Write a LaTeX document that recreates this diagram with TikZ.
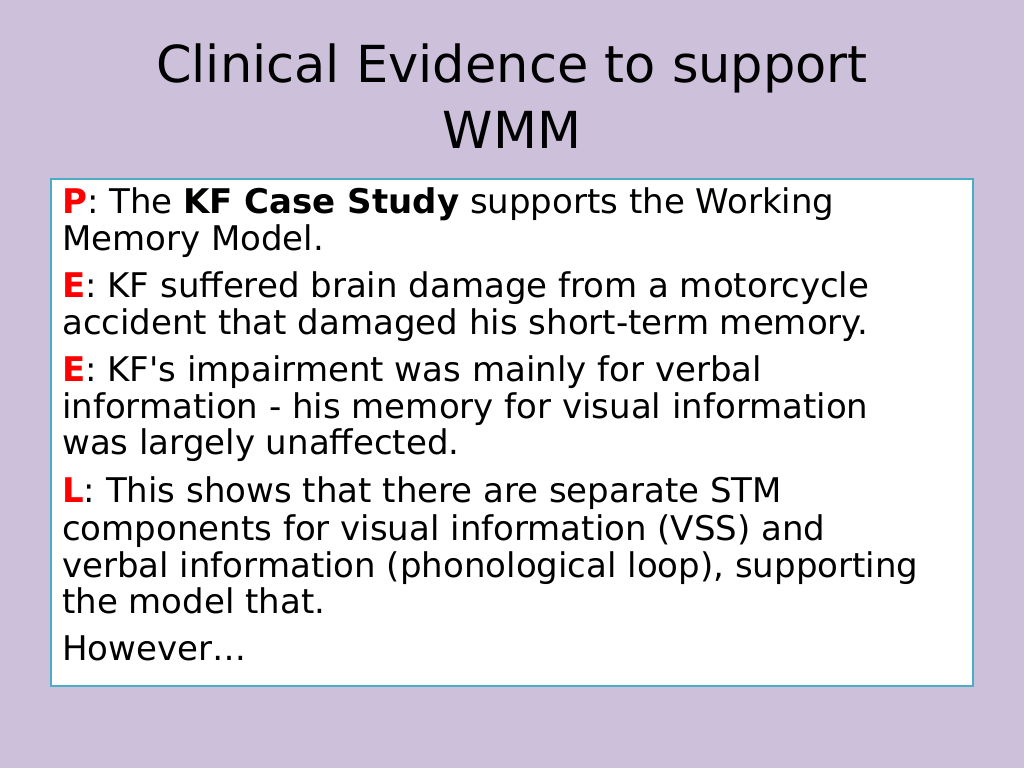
\documentclass[tikz,border=0pt]{standalone}
\usepackage{fontspec}
\setmainfont{DejaVu Sans}
\definecolor{slidebg}{HTML}{CCC0DA}
\definecolor{boxline}{HTML}{4BACC6}
\definecolor{peel}{HTML}{FF0000}
\tikzset{
  line/.style={anchor=base west, inner sep=0pt, font=\fontsize{34}{38}\selectfont},
  headline/.style={anchor=base, inner sep=0pt, font=\fontsize{51}{56}\selectfont}
}
\newcommand{\peelmark}[1]{\textcolor{peel}{\textbf{#1}}}
\begin{document}
\begin{tikzpicture}[x=1pt,y=-1pt]
% background and frame
\fill[slidebg] (0,0) rectangle (1024,768);
\draw[boxline, fill=white, line width=2pt] (51,179) rectangle (973,686);

% title
\node[headline] (title1) at (512,82) {Clinical Evidence to support};
\node[headline] (title2) at (512,148) {WMM};

% body text
\node[line] (p1) at (62,213) {\peelmark{P}: The \textbf{KF Case Study} supports the Working};
\node[line] (p2) at (62,250) {Memory Model.};
\node[line] (e1) at (62,297) {\peelmark{E}: KF suffered brain damage from a motorcycle};
\node[line] (e2) at (62,334) {accident that damaged his short-term memory.};
\node[line] (f1) at (62,381) {\peelmark{E}: KF\textquotesingle s impairment was mainly for verbal};
\node[line] (f2) at (62,418) {information - his memory for visual information};
\node[line] (f3) at (62,454) {was largely unaffected.};
\node[line] (l1) at (62,502) {\peelmark{L}: This shows that there are separate STM};
\node[line] (l2) at (62,540) {components for visual information (VSS) and};
\node[line] (l3) at (62,577) {verbal information (phonological loop), supporting};
\node[line] (l4) at (62,613) {the model that.};
\node[line] (hw) at (62,660) {However…};
\end{tikzpicture}
\end{document}
